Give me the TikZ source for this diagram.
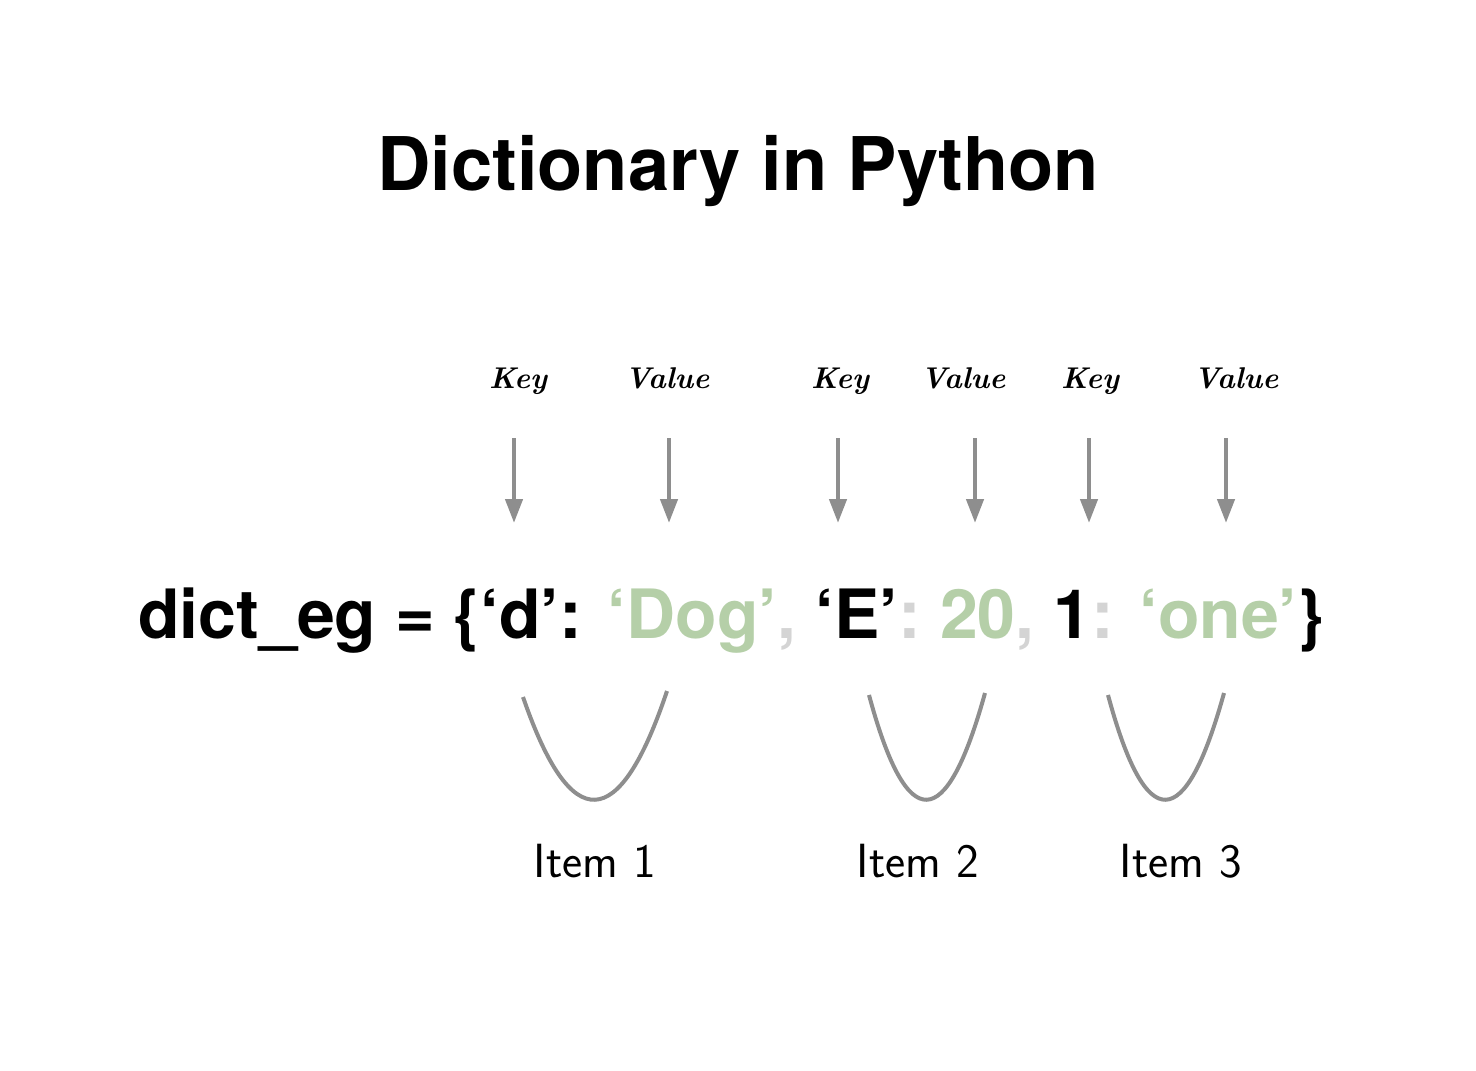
\documentclass[tikz,border=0pt]{standalone}
\usepackage{fontspec}
\setmainfont{TeX Gyre Heros}
\newfontfamily\scriptlbl{Latin Modern Roman}
\newfontfamily\handlbl{Latin Modern Sans}
\usetikzlibrary{arrows.meta}
\definecolor{valgreen}{RGB}{181,207,168}
\definecolor{punctgray}{RGB}{212,212,212}
\definecolor{arrowgray}{RGB}{142,142,142}
\tikzset{
  titletext/.style={font=\fontsize{37}{40}\selectfont\bfseries, inner sep=0pt, anchor=base},
  codetext/.style={font=\fontsize{34}{38}\selectfont\bfseries, inner sep=0pt, anchor=base},
  kvlabel/.style={font=\scriptlbl\fontsize{15}{18}\selectfont\bfseries\itshape, inner sep=0pt, anchor=base},
  itemlabel/.style={font=\handlbl\fontsize{24}{27}\selectfont, inner sep=0pt, anchor=base},
  pointer/.style={draw=arrowgray, line width=2.2pt, -{Triangle[width=8.5pt,length=12pt]}},
  itembrace/.style={draw=arrowgray, line width=2pt},
}
\begin{document}
\begin{tikzpicture}[x=0.5pt,y=-0.5pt]
\useasboundingbox (0,0) rectangle (1476,1070);
\node[titletext] (title) at (738,190) {Dictionary in Python};
\node[codetext] (code) at (731,638) {dict\_eg = \{‘d’: \textcolor{valgreen}{‘Dog’}\textcolor{punctgray}{,} ‘E’\textcolor{punctgray}{:} \textcolor{valgreen}{20}\textcolor{punctgray}{,} 1\textcolor{punctgray}{:} \textcolor{valgreen}{‘one’}\}};
% labels
\node[kvlabel] (k1) at (518,388) {Key};
\node[kvlabel] (v1) at (667,388) {Value};
\node[kvlabel] (k2) at (840,388) {Key};
\node[kvlabel] (v2) at (963,388) {Value};
\node[kvlabel] (k3) at (1090,388) {Key};
\node[kvlabel] (v3) at (1236,388) {Value};
% arrows
\foreach \n/\x in {ak1/514, av1/669, ak2/838, av2/975, ak3/1089, av3/1226}{
  \coordinate (\n s) at (\x,438);
  \coordinate (\n e) at (\x,523);
}
\foreach \n in {ak1, av1, ak2, av2, ak3, av3}{
  \draw[pointer] (\n s) -- (\n e);
}
% braces
\coordinate (b1a) at (523,697); \coordinate (b1b) at (667,691);
\coordinate (b2a) at (869,695); \coordinate (b2b) at (985,693);
\coordinate (b3a) at (1108,695); \coordinate (b3b) at (1224,693);
\draw[itembrace] (b1a) .. controls (571,836) and (619,834) .. (b1b);
\draw[itembrace] (b2a) .. controls (907,836) and (946,834) .. (b2b);
\draw[itembrace] (b3a) .. controls (1146,836) and (1185,834) .. (b3b);
% item labels
\node[itemlabel] (i1) at (595,877) {Item 1};
\node[itemlabel] (i2) at (918,877) {Item 2};
\node[itemlabel] (i3) at (1181,877) {Item 3};
\end{tikzpicture}
\end{document}
